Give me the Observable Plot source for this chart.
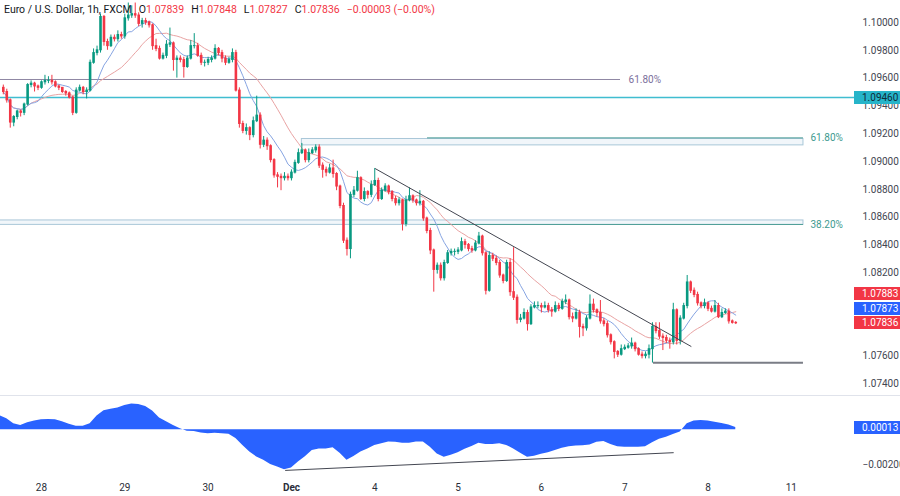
<!DOCTYPE html>
<html><head><meta charset="utf-8">
<script src="https://cdn.jsdelivr.net/npm/d3@7"></script>
<script src="https://cdn.jsdelivr.net/npm/@observablehq/plot@0.6"></script>
<style>
body{margin:0;background:#fff;font-family:Roboto,"Liberation Sans",sans-serif;}
#wrap{position:relative;width:900px;height:496px;overflow:hidden;background:#fff;}
#osc{border-top:1px solid #e0e3eb;}
.tag{position:absolute;left:854px;width:46px;height:13px;line-height:13px;font-size:10px;padding-left:8px;box-sizing:border-box;font-family:Roboto,sans-serif;}
#header{position:absolute;left:4px;top:3px;font-size:10.5px;color:#131722;white-space:nowrap;font-family:Roboto,sans-serif;}
#header .v{color:#f23645;}
#header .g{margin-left:7px;}
</style></head>
<body><div id="wrap"><div id="main"></div><div id="osc"></div><div id="header"></div></div>
<script>
// ---- data ----
const firstHour = -11;           // trading hours since the "28" session start
const firstOpen = 1.0953;
const closes = [
1.0950,1.0944,1.0928,1.0932,1.0936,1.0935,1.0941,1.0955,1.0956,1.0954,1.0953,1.0957,
1.0958,1.0958,1.0957,1.0954,1.0953,1.0950,1.0949,1.0946,1.0935,1.0951,1.0953,1.0950,
1.0951,1.0971,1.0978,1.0980,1.1004,1.0986,1.0983,1.0989,1.0988,1.0991,1.0990,1.1003,
1.1005,1.1006,1.1005,1.0999,1.1001,1.1000,1.0998,1.0983,1.0981,1.0974,1.0976,1.0984,
1.0985,1.0973,1.0974,1.0973,1.0968,1.0974,1.0983,1.0983,1.0976,1.0971,1.0971,1.0973,
1.0974,1.0981,1.0978,1.0974,1.0971,1.0973,1.0978,1.0951,1.0927,1.0922,1.0924,1.0919,
1.0929,1.0933,1.0912,1.0915,1.0911,1.0901,1.0890,1.0889,1.0888,1.0889,1.0888,1.0892,
1.0899,1.0906,1.0908,1.0901,1.0906,1.0908,1.0910,1.0897,1.0894,1.0892,1.0895,1.0891,
1.0882,1.0868,1.0843,1.0837,1.0876,1.0879,1.0888,1.0873,1.0878,1.0876,1.0883,1.0886,
1.0873,1.0879,1.0882,1.0878,1.0873,1.0870,1.0872,1.0855,1.0872,1.0875,1.0872,1.0870,
1.0871,1.0859,1.0850,1.0836,1.0822,1.0825,1.0816,1.0827,1.0834,1.0835,1.0835,1.0836,
1.0842,1.0840,1.0837,1.0836,1.0841,1.0846,1.0834,1.0807,1.0832,1.0830,1.0827,1.0818,
1.0814,1.0827,1.0806,1.0802,1.0786,1.0787,1.0791,1.0783,1.0795,1.0796,1.0796,1.0795,
1.0796,1.0793,1.0792,1.0796,1.0794,1.0799,1.0800,1.0788,1.0787,1.0791,1.0781,1.0780,
1.0787,1.0797,1.0793,1.0791,1.0785,1.0783,1.0775,1.0770,1.0763,1.0761,1.0765,1.0766,
1.0767,1.0769,1.0765,1.0761,1.0760,1.0761,1.0765,1.0781,1.0778,1.0774,1.0773,1.0771,
1.0770,1.0793,1.0771,1.0787,1.0796,1.0813,1.0807,1.0804,1.0798,1.0796,1.0798,1.0794,
1.0792,1.0796,1.0788,1.0791,1.0792,1.0785,1.07839,1.07836];
const highs = [
1.0955,1.0952,1.0945,1.0933,1.0937,1.0937,1.0942,1.0956,1.0958,1.0957,1.0955,1.0958,
1.0962,1.0961,1.0962,1.0958,1.0955,1.0953,1.0951,1.0950,1.0947,1.0953,1.0955,1.0954,
1.0953,1.0973,1.0981,1.0983,1.1006,1.1005,1.0988,1.0991,1.0991,1.0994,1.0993,1.1006,
1.1014,1.1012,1.1014,1.1007,1.1003,1.1003,1.1001,1.0999,1.0988,1.0983,1.0978,1.0987,
1.0996,1.0986,1.0976,1.0976,1.0975,1.0976,1.0987,1.0992,1.0985,1.0978,1.0973,1.0975,
1.0976,1.0984,1.0982,1.0980,1.0976,1.0975,1.0981,1.0980,1.0953,1.0929,1.0927,1.0925,
1.0932,1.0947,1.0935,1.0918,1.0917,1.0912,1.0902,1.0892,1.0891,1.0892,1.0891,1.0894,
1.0901,1.0909,1.0913,1.0909,1.0909,1.0910,1.0912,1.0912,1.0899,1.0896,1.0898,1.0901,
1.0892,1.0883,1.0870,1.0845,1.0878,1.0882,1.0893,1.0889,1.0881,1.0879,1.0886,1.0895,
1.0888,1.0881,1.0884,1.0883,1.0879,1.0875,1.0874,1.0873,1.0875,1.0881,1.0876,1.0873,
1.0879,1.0872,1.0860,1.0852,1.0837,1.0827,1.0827,1.0829,1.0836,1.0837,1.0837,1.0838,
1.0845,1.0844,1.0841,1.0839,1.0843,1.0849,1.0847,1.0835,1.0835,1.0834,1.0832,1.0829,
1.0819,1.0829,1.0830,1.0838,1.0804,1.0790,1.0794,1.0793,1.0797,1.0799,1.0799,1.0798,
1.0799,1.0798,1.0795,1.0799,1.0798,1.0801,1.0804,1.0801,1.0791,1.0794,1.0793,1.0783,
1.0789,1.0804,1.0801,1.0794,1.0800,1.0787,1.0785,1.0776,1.0771,1.0764,1.0768,1.0768,
1.0769,1.0773,1.0770,1.0766,1.0763,1.0763,1.0768,1.0784,1.0784,1.0784,1.0776,1.0775,
1.0773,1.0798,1.0794,1.0789,1.0798,1.0818,1.0814,1.0809,1.0806,1.0799,1.0801,1.0799,
1.0796,1.0800,1.0798,1.0794,1.0794,1.0794,1.0786,1.07848];
const lows = [
1.0948,1.0942,1.0924,1.0925,1.0930,1.0932,1.0933,1.0940,1.0953,1.0950,1.0951,1.0952,
1.0955,1.0956,1.0955,1.0953,1.0951,1.0949,1.0947,1.0945,1.0933,1.0934,1.0950,1.0948,
1.0945,1.0950,1.0970,1.0976,1.0978,1.0983,1.0980,1.0982,1.0986,1.0986,1.0988,1.0988,
1.1001,1.1003,1.1003,1.0997,1.0996,1.0998,1.0996,1.0980,1.0979,1.0973,1.0973,1.0974,
1.0982,1.0965,1.0960,1.0971,1.0960,1.0967,1.0973,1.0981,1.0975,1.0969,1.0968,1.0969,
1.0971,1.0973,1.0976,1.0971,1.0969,1.0970,1.0971,1.0950,1.0924,1.0920,1.0919,1.0915,
1.0917,1.0928,1.0909,1.0910,1.0908,1.0899,1.0888,1.0881,1.0879,1.0886,1.0886,1.0886,
1.0891,1.0898,1.0905,1.0899,1.0899,1.0905,1.0906,1.0895,1.0888,1.0889,1.0891,1.0888,
1.0879,1.0866,1.0841,1.0832,1.0830,1.0874,1.0878,1.0872,1.0871,1.0873,1.0874,1.0882,
1.0871,1.0872,1.0878,1.0876,1.0871,1.0868,1.0868,1.0850,1.0853,1.0871,1.0870,1.0868,
1.0868,1.0857,1.0848,1.0833,1.0806,1.0819,1.0814,1.0814,1.0826,1.0832,1.0832,1.0833,
1.0835,1.0837,1.0835,1.0834,1.0835,1.0840,1.0832,1.0804,1.0806,1.0828,1.0825,1.0816,
1.0812,1.0813,1.0803,1.0800,1.0783,1.0784,1.0786,1.0778,1.0782,1.0794,1.0794,1.0791,
1.0794,1.0791,1.0788,1.0791,1.0792,1.0793,1.0797,1.0786,1.0784,1.0786,1.0773,1.0774,
1.0778,1.0786,1.0791,1.0788,1.0783,1.0781,1.0773,1.0768,1.0758,1.0759,1.0760,1.0764,
1.0765,1.0765,1.0763,1.0760,1.0758,1.0758,1.0758,1.0755,1.0776,1.0772,1.0764,1.0769,
1.0765,1.0768,1.0768,1.0768,1.0786,1.0794,1.0805,1.0802,1.0796,1.0794,1.0794,1.0792,
1.0791,1.0791,1.0787,1.0787,1.0790,1.0783,1.0783,1.07827];

const oscStartHour = -12, oscStepHours = 2;
const oscValues = [
0.00082,0.00063,0.00035,0.00025,0.0004,0.0005,0.00058,0.0006,0.00058,0.00046,
0.00032,0.0002,0.00021,0.00035,0.0008,0.0011,0.00118,0.00126,0.0014,0.00148,
0.00146,0.00134,0.00108,0.00068,0.00046,0.00025,0.00006,-0.00008,-0.0001,-0.00018,
-0.00023,-0.0002,-0.00023,-0.00025,-0.0005,-0.0009,-0.00128,-0.00157,-0.00175,-0.002,
-0.00215,-0.0023,-0.0022,-0.00185,-0.00155,-0.0012,-0.0011,-0.0011,-0.00104,-0.00135,
-0.00175,-0.00154,-0.00128,-0.0011,-0.0009,-0.0008,-0.0007,-0.00072,-0.00078,-0.00078,
-0.0007,-0.0007,-0.001,-0.0014,-0.00158,-0.00147,-0.00133,-0.00112,-0.00097,-0.00078,
-0.00085,-0.00085,-0.00081,-0.0009,-0.0011,-0.00135,-0.00158,-0.00152,-0.00141,-0.00133,
-0.0012,-0.00107,-0.00098,-0.00094,-0.00092,-0.00088,-0.00072,-0.00068,-0.00085,-0.00098,
-0.001,-0.001,-0.001,-0.00098,-0.00074,-0.00054,-0.00043,-0.00027,-0.00013,0.00035,
0.0005,0.00054,0.0005,0.00043,0.00037,0.00027,0.00013];

const dayTickHours = [0,24,48,72,96,120,144,168,192,216];
const dayLabels = ["28","29","30","Dec","4","5","6","7","8","11"];
// 1.07800 and 1.08000 sit behind the price tags in the reference, so they are not listed
const priceTicks = [1.074,1.076,1.082,1.084,1.086,1.088,1.090,1.092,1.094,1.096,1.098,1.100];
const oscTicks = [-0.002];

const hLinePrice = 1.0946;
const upperFibPrice = 1.0959, upperFibEndHour = 166.8, upperFibLabel = "61.80%";
const fibLabels = ["61.80%","38.20%"];
const fibPrices = [1.0917, 1.08547];
const fibStartHours = [111.2, 112];
const fibEndHour = 219.5;
const zoneTops = [1.09162, 1.08576];
const zoneBottoms = [1.09116, 1.08544];
const zoneStartHours = [75, -12];
const trendHours = [96.2, 187.1];
const trendPrices = [1.08948, 1.0767];
const supportHours = [176.3, 219.5];
const supportPrice = 1.07552;
const oscTrendHours = [70.3, 182];
const oscTrendValues = [-0.00234, -0.00132];
const maFastLast = 1.07873, maSlowLast = 1.07883;

// ---- tables ----
const candles = closes.map((c, i) => ({
  h: firstHour + i, open: i ? closes[i-1] : firstOpen, close: c, high: highs[i], low: lows[i]
}));
candles.forEach(d => { d.top = Math.max(d.open, d.close); d.bot = Math.min(d.open, d.close); d.up = d.close >= d.open; });
const osc = oscValues.map((v, i) => ({h: oscStartHour + i*oscStepHours, v}));
const fibs = fibPrices.map((p, i) => ({p, label: fibLabels[i], start: fibStartHours[i], end: fibEndHour}));
const zones = zoneTops.map((t, i) => ({t, b: zoneBottoms[i], start: zoneStartHours[i], end: fibEndHour}));
const trend = trendHours.map((h, i) => ({h, p: trendPrices[i]}));
const oscTrend = oscTrendHours.map((h, i) => ({h, v: oscTrendValues[i]}));
const levelLine = [{p: hLinePrice, start: -12, end: 234.2}];
const upperFib = [{p: upperFibPrice, start: -12, end: upperFibEndHour, label: upperFibLabel}];
const support = [{p: supportPrice, start: supportHours[0], end: supportHours[1]}];

const UP = "#089981", DOWN = "#f23645";
const xDomain = [-11.81, 234.2];
const font = "Roboto, 'Liberation Sans', sans-serif";

const main = Plot.plot({
  width: 900, height: 395, marginTop: 0, marginBottom: 0, marginLeft: 0, marginRight: 46,
  x: {domain: xDomain, axis: null, label: null},
  y: {domain: [1.073166, 1.101583], label: null, axis: null},
  style: {fontFamily: font, fontSize: "10px", color: "#434651", background: "transparent"},
  marks: [
    Plot.rect(zones, {x1: "start", x2: "end", y1: "b", y2: "t", fill: "#f1f6fa", stroke: "#a9c7d8", strokeWidth: 1}),
    Plot.ruleY(fibs, {y: "p", x1: "start", x2: "end", stroke: "#4f9f98", strokeWidth: 1}),
    Plot.text(fibs, {x: "end", y: "p", text: "label", textAnchor: "start", dx: 7, fill: "#3d9a8f", fontSize: 10}),
    Plot.ruleY(upperFib, {y: "p", x1: "start", x2: "end", stroke: "#8f87a3", strokeWidth: 1}),
    Plot.text(upperFib, {x: "end", y: "p", text: "label", textAnchor: "start", dx: 8, fill: "#7b6f9c", fontSize: 10}),
    Plot.ruleY(levelLine, {y: "p", x1: "start", x2: "end", stroke: "#1fb2c8", strokeOpacity: 0.85, strokeWidth: 1.4}),
    Plot.lineY(candles, Plot.windowY({k: 20, anchor: "end"}, {x: "h", y: "close", stroke: "#e9a3a3", strokeWidth: 1})),
    Plot.lineY(candles, Plot.windowY({k: 9, anchor: "end"}, {x: "h", y: "close", stroke: "#86a4e2", strokeWidth: 1})),
    Plot.ruleX(candles, {x: "h", y1: "low", y2: "high", stroke: d => d.up ? UP : DOWN, strokeWidth: 1}),
    Plot.ruleX(candles, {x: "h", y1: "top", y2: "bot", stroke: d => d.up ? UP : DOWN, strokeWidth: 2.6, insetTop: -0.5, insetBottom: -0.5}),
    Plot.line(trend, {x: "h", y: "p", stroke: "#434651", strokeWidth: 1}),
    Plot.ruleY(support, {y: "p", x1: "start", x2: "end", stroke: "#7a7d86", strokeWidth: 2}),
    Plot.axisY({anchor: "right", ticks: priceTicks, tickFormat: d => d.toFixed(5), tickSize: 0, tickPadding: 8, fontSize: 10, label: null})
  ]
});
document.getElementById("main").appendChild(main);

const normalTicks = dayTickHours.filter((h, i) => dayLabels[i] !== "Dec");
const boldTicks = dayTickHours.filter((h, i) => dayLabels[i] === "Dec");
const labelOf = h => dayLabels[dayTickHours.indexOf(h)];
const oscPlot = Plot.plot({
  width: 900, height: 100, marginTop: 0, marginBottom: 20, marginLeft: 0, marginRight: 46,
  x: {domain: xDomain, label: null},
  y: {domain: [-0.002692, 0.001919], label: null, axis: null},
  style: {fontFamily: font, fontSize: "10px", color: "#2a2e39", background: "transparent"},
  marks: [
    Plot.areaY(osc, {x: "h", y: "v", fill: "#2962ff"}),
    Plot.line(oscTrend, {x: "h", y: "v", stroke: "#434651", strokeWidth: 1}),
    Plot.axisY({anchor: "right", ticks: oscTicks, tickFormat: d => (d < 0 ? "\u2212" : "") + Math.abs(d).toFixed(5), tickSize: 0, tickPadding: 8, fontSize: 10, label: null, fill: "#434651"}),
    Plot.axisX({ticks: normalTicks, tickFormat: labelOf, tickSize: 0, tickPadding: 7, fontSize: 10, label: null}),
    Plot.axisX({ticks: boldTicks, tickFormat: labelOf, tickSize: 0, tickPadding: 7, fontSize: 10, fontWeight: "bold", label: null})
  ]
});
document.getElementById("osc").appendChild(oscPlot);

// ---- price tags (positions from the plots' scales) ----
const wrap = document.getElementById("wrap");
function tag(y, text, bg, fg) {
  const d = document.createElement("div");
  d.className = "tag"; d.style.top = (y - 6.5) + "px"; d.style.background = bg; d.style.color = fg;
  d.textContent = text; wrap.appendChild(d);
}
const ys = main.scale("y");
const last = candles[candles.length - 1];
tag(ys.apply(hLinePrice), hLinePrice.toFixed(5), "#26b4c9", "#0f2b38");
const stack = [
  {v: last.close, bg: last.up ? UP : DOWN},
  {v: maFastLast, bg: "#2962ff"},
  {v: maSlowLast, bg: "#f23645"}
].sort((a, b) => a.v - b.v);
let prev = Infinity;
stack.forEach(s => { const y = Math.min(ys.apply(s.v), prev - 14.5); prev = y; tag(y, s.v.toFixed(5), s.bg, "#fff"); });
const oy = oscPlot.scale("y");
const oscLast = oscValues[oscValues.length - 1];
tag(396 + oy.apply(oscLast), oscLast.toFixed(5), "#2962ff", "#fff");

// ---- header ----
const chg = last.close - last.open;
const sign = v => (v < 0 ? "\u2212" : "") + Math.abs(v).toFixed(5);
const pct = (v, base) => (v < 0 ? "\u2212" : "") + Math.abs(v / base * 100).toFixed(2) + "%";
document.getElementById("header").innerHTML =
  `Euro / U.S. Dollar, 1h, FXCM` +
  `<span class="g">O<span class="v">${last.open.toFixed(5)}</span></span>` +
  `<span class="g">H<span class="v">${last.high.toFixed(5)}</span></span>` +
  `<span class="g">L<span class="v">${last.low.toFixed(5)}</span></span>` +
  `<span class="g">C<span class="v">${last.close.toFixed(5)}</span></span>` +
  `<span class="g v">${sign(chg)} (${pct(chg, last.open)})</span>`;
</script></body></html>
